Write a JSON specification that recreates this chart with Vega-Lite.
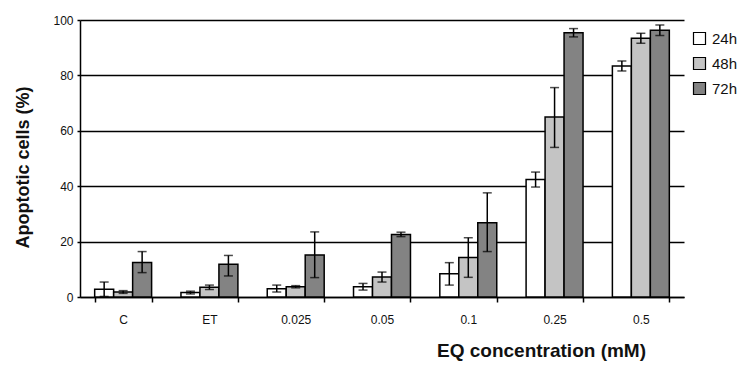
{
  "$schema": "https://vega.github.io/schema/vega-lite/v6.json",
  "width": 604,
  "height": 277,
  "autosize": "none",
  "padding": {"left": 80, "top": 20, "right": 57, "bottom": 74},
  "background": "white",
  "config": {"view": {"stroke": null}, "font": "Liberation Sans"},
  "data": {"values": [
    {"cat": "C", "time": "24h", "value": 2.8, "lo": 0.2, "hi": 5.4},
    {"cat": "C", "time": "48h", "value": 1.8, "lo": 1.3, "hi": 2.3},
    {"cat": "C", "time": "72h", "value": 12.5, "lo": 8.8, "hi": 16.4},
    {"cat": "ET", "time": "24h", "value": 1.6, "lo": 1.1, "hi": 2.1},
    {"cat": "ET", "time": "48h", "value": 3.5, "lo": 2.7, "hi": 4.3},
    {"cat": "ET", "time": "72h", "value": 11.8, "lo": 7.6, "hi": 15.0},
    {"cat": "0.025", "time": "24h", "value": 3.0, "lo": 1.8, "hi": 4.3},
    {"cat": "0.025", "time": "48h", "value": 3.7, "lo": 3.3, "hi": 4.1},
    {"cat": "0.025", "time": "72h", "value": 15.2, "lo": 7.0, "hi": 23.5},
    {"cat": "0.05", "time": "24h", "value": 3.7, "lo": 2.5, "hi": 4.9},
    {"cat": "0.05", "time": "48h", "value": 7.2, "lo": 5.4, "hi": 9.0},
    {"cat": "0.05", "time": "72h", "value": 22.6, "lo": 21.8, "hi": 23.4},
    {"cat": "0.1", "time": "24h", "value": 8.4, "lo": 4.3, "hi": 12.4},
    {"cat": "0.1", "time": "48h", "value": 14.3, "lo": 7.1, "hi": 21.4},
    {"cat": "0.1", "time": "72h", "value": 26.8, "lo": 16.4, "hi": 37.6},
    {"cat": "0.25", "time": "24h", "value": 42.4, "lo": 39.7, "hi": 45.1},
    {"cat": "0.25", "time": "48h", "value": 65.0, "lo": 54.0, "hi": 75.6},
    {"cat": "0.25", "time": "72h", "value": 95.4, "lo": 93.9, "hi": 96.9},
    {"cat": "0.5", "time": "24h", "value": 83.4, "lo": 81.6, "hi": 85.2},
    {"cat": "0.5", "time": "48h", "value": 93.4, "lo": 91.6, "hi": 95.2},
    {"cat": "0.5", "time": "72h", "value": 96.3, "lo": 94.4, "hi": 98.2}
  ]},
  "encoding": {
    "x": {
      "field": "cat", "type": "nominal", "sort": null,
      "scale": {"paddingInner": 0.34, "paddingOuter": 0.17},
      "axis": {
        "title": "EQ concentration (mM)", "labelAngle": 0,
        "labelFontSize": 12, "labelColor": "#111", "labelPadding": 12,
        "tickBand": "extent", "tickSize": 5, "tickColor": "black", "tickWidth": 1.5,
        "domainColor": "black", "domainWidth": 1.5,
        "titleFontSize": 19, "titleFontWeight": "bold", "titleColor": "#111",
        "titleX": 461, "titleY": 53, "titleBaseline": "middle", "titleAlign": "center"
      }
    },
    "xOffset": {"field": "time", "type": "nominal", "scale": {"paddingInner": 0, "paddingOuter": 0}}
  },
  "layer": [
    {
      "mark": {"type": "bar", "stroke": "black", "strokeWidth": 1.5},
      "encoding": {
        "y": {
          "field": "value", "type": "quantitative",
          "scale": {"domain": [0, 100], "nice": false},
          "axis": {
            "title": "Apoptotic cells (%)", "values": [0, 20, 40, 60, 80, 100],
            "labelFontSize": 12, "labelColor": "#111", "labelPadding": 4,
            "tickSize": 3, "tickColor": "black", "tickWidth": 1.5,
            "domainColor": "black", "domainWidth": 1.5,
            "grid": true, "gridColor": "black", "gridWidth": 1.5,
            "titleFontSize": 18, "titleFontWeight": "bold", "titleColor": "#111",
            "titleX": -57, "titleY": 147, "titleBaseline": "middle", "titleAlign": "center"
          }
        },
        "fill": {
          "field": "time", "type": "nominal",
          "scale": {"domain": ["24h", "48h", "72h"], "range": ["#ffffff", "#c4c4c4", "#838383"]},
          "legend": {
            "title": null, "orient": "none", "legendX": 612, "legendY": 11,
            "symbolType": "square", "symbolSize": 144, "symbolStrokeColor": "black",
            "symbolStrokeWidth": 1.2, "labelFontSize": 15, "labelColor": "#111",
            "rowPadding": 8, "labelOffset": 5
          }
        }
      }
    },
    {
      "mark": {"type": "rule", "color": "black", "strokeWidth": 1.5},
      "encoding": {
        "y": {"field": "lo", "type": "quantitative"},
        "y2": {"field": "hi"}
      }
    },
    {
      "mark": {"type": "tick", "color": "black", "size": 9, "thickness": 1.5},
      "encoding": {"y": {"field": "lo", "type": "quantitative"}}
    },
    {
      "mark": {"type": "tick", "color": "black", "size": 9, "thickness": 1.5},
      "encoding": {"y": {"field": "hi", "type": "quantitative"}}
    }
  ]
}
